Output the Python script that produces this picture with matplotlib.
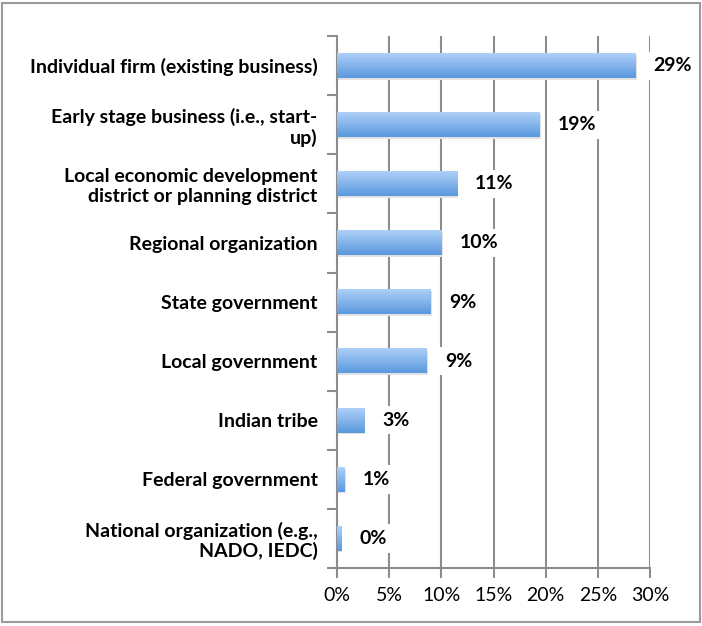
import numpy as np
import matplotlib
matplotlib.use("Agg")
import matplotlib.pyplot as plt
from matplotlib.colors import LinearSegmentedColormap
from matplotlib.patches import Rectangle
from matplotlib.ticker import PercentFormatter

plt.rcParams['font.family'] = ['Lato', 'DejaVu Sans']

# categories, top to bottom
categories = [
    "Individual firm (existing business)",
    "Early stage business (i.e., start-\nup)",
    "Local economic development\ndistrict or planning district",
    "Regional organization",
    "State government",
    "Local government",
    "Indian tribe",
    "Federal government",
    "National organization (e.g.,\nNADO, IEDC)",
]
shares = [28.6, 19.4, 11.5, 10.0, 9.0, 8.6, 2.6, 0.7, 0.4]
share_labels = ["29%", "19%", "11%", "10%", "9%", "9%", "3%", "1%", "0%"]
xticks = [0, 5, 10, 15, 20, 25, 30]

fig = plt.figure(figsize=(7.02, 6.26), dpi=100)
ax = fig.add_axes([0.480, 0.093, 0.446, 0.849])

grad = LinearSegmentedColormap.from_list("bar", ["#aed0f8", "#5a98de"])
ramp = np.linspace(0, 1, 64).reshape(-1, 1)

ypos = np.arange(len(categories))
h = 0.42
for y, v, lab in zip(ypos, shares, share_labels):
    # soft shadow under the bar
    ax.add_patch(Rectangle((0, y - h / 2 + 0.03), v + 0.12, h, color="#e2e2e2",
                           lw=0, zorder=2))
    ax.imshow(ramp, cmap=grad, aspect="auto", zorder=3,
              extent=(0, v, y + h / 2, y - h / 2))
    ax.text(v + 1.75, y, lab, va="center", ha="left", fontsize=14,
            fontweight="bold", zorder=4,
            bbox=dict(boxstyle="square,pad=0.3", fc="white", ec="none"))

ax.set_xlim(0, 30)
ax.set_ylim(len(categories) - 0.5, -0.5)
ax.set_xticks(xticks)
ax.xaxis.set_major_formatter(PercentFormatter(decimals=0))
ax.set_yticks(np.arange(-0.5, len(categories), 1))
ax.set_yticklabels([])
ax.set_yticks(ypos, minor=True)
ax.set_yticklabels(categories, minor=True, fontsize=14, fontweight="bold",
                   ha="right", linespacing=1.15)
ax.tick_params(axis="y", which="minor", length=0, pad=14)
ax.tick_params(axis="y", which="major", length=7, color="#8c8c8c", width=1.5)
ax.tick_params(axis="x", length=7, color="#8c8c8c", width=1.5, labelsize=14,
               pad=7)

ax.grid(axis="x", color="#8c8c8c", lw=1.5, zorder=1)
ax.set_axisbelow(True)
for side in ["top", "right"]:
    ax.spines[side].set_visible(False)
for side in ["left", "bottom"]:
    ax.spines[side].set_color("#8c8c8c")
    ax.spines[side].set_linewidth(1.5)

# outer frame
fig.add_artist(Rectangle((0.003, 0.006), 0.994, 0.99, transform=fig.transFigure,
                         fill=False, ec="#9a9a9a", lw=1.5))

fig.savefig("out.png", dpi=100)
